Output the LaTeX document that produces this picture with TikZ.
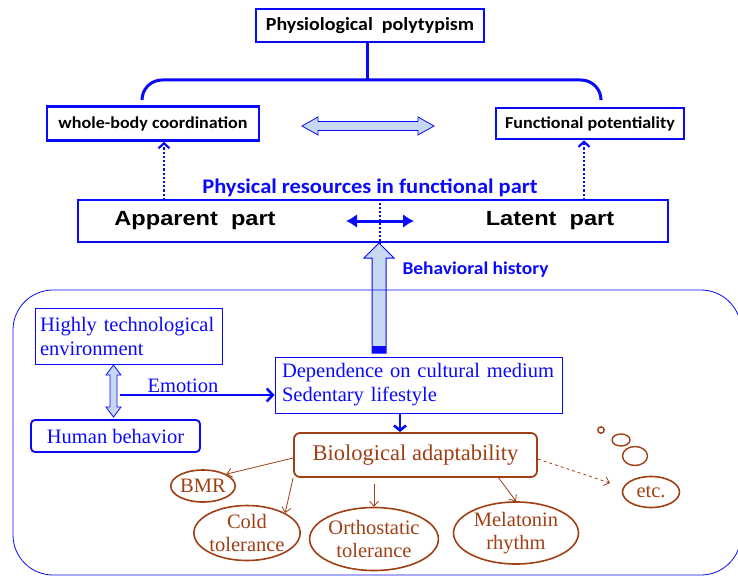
\documentclass[tikz,border=0pt]{standalone}
\usepackage{fontspec}
\setmainfont{Carlito}[FakeStretch=1.08]
\newfontfamily\arialfont{Liberation Sans}[FakeStretch=1.15]
\newfontfamily\seriffont{Liberation Serif}
\usetikzlibrary{arrows.meta,shapes.geometric,calc}
\definecolor{pblue}{RGB}{10,10,250}
\definecolor{lblue}{RGB}{198,217,241}
\definecolor{brn}{RGB}{160,62,20}
\begin{document}
\begin{tikzpicture}[x=1pt,y=-1pt,
  thickbox/.style={draw=pblue, line width=2.6pt, fill=white, inner sep=0pt},
  thinbox/.style={draw=pblue, line width=1pt, fill=white, inner sep=0pt, text=pblue,
    font=\seriffont\fontsize{20.5}{24}\selectfont},
  brownbox/.style={draw=brn, line width=1.8pt, rounded corners=6pt, inner sep=0pt, text=brn,
    font=\seriffont\fontsize{22.5}{26}\selectfont},
  brownell/.style={ellipse, draw=brn, line width=1.6pt, inner sep=0pt, text=brn, align=center,
    font=\seriffont\fontsize{20.5}{23}\selectfont},
  brarrow/.style={draw=brn, line width=0.8pt, -{Straight Barb[length=5pt,width=9pt]}},
  bluearrow/.style={draw=pblue, line width=2.6pt, -{Straight Barb[length=6pt,width=13pt]}},
  dotarrow/.style={draw=pblue, line width=2.2pt, dotted, -{Straight Barb[length=5pt,width=11pt]}},
  toptext/.style={font=\bfseries\fontsize{16.7}{19}\selectfont},
]
\useasboundingbox (0,0) rectangle (738,575);

% ---- upper level
\node[thickbox, minimum width=228, minimum height=33, font=\bfseries\fontsize{18.5}{21}\selectfont]
  (poly) at (370,25.5) {Physiological\ \ polytypism};
\node[thickbox, minimum width=212, minimum height=34, toptext] (whole) at (153,123.5) {whole-body coordination};
\node[thickbox, minimum width=188, minimum height=31, toptext] (func) at (590,123.5) {Functional potentiality};

% bracket joining the two aspects
\coordinate (brtop) at (367,80);
\draw[pblue, line width=3pt] (poly.south -| brtop) -- (brtop);
\draw[pblue, line width=3pt, rounded corners=20pt] (142,99) -- (142,80) -- (601,80) -- (601,99);

% hollow two-way arrow between the aspects
\draw[pblue, fill=lblue, line width=0.8pt]
  (302,126) -- (318,117) -- (318,121.5) -- (418,121.5) -- (418,117) -- (434,126)
  -- (418,135) -- (418,130.5) -- (318,130.5) -- (318,135) -- cycle;

% ---- functional part
\node[text=pblue, font=\bfseries\fontsize{20.8}{24}\selectfont] (phys) at (370,188) {Physical resources in functional part};
\node[thickbox, minimum width=590, minimum height=42] (parts) at (373,221) {};
\node[font=\arialfont\bfseries\fontsize{20.5}{24}\selectfont] (app) at (195,221) {Apparent\ \ part};
\node[font=\arialfont\bfseries\fontsize{20.5}{24}\selectfont] (lat) at (550,221) {Latent\ \ part};

\coordinate (dl) at (164,200);
\coordinate (dr) at (584,200);
\draw[dotarrow] (dl) -- (dl |- whole.south);
\draw[dotarrow] (dr) -- (dr |- func.south);

\coordinate (mid) at (380,221);
\draw[pblue, line width=2pt, dotted] (mid |- parts.north) -- (mid |- parts.south);
\coordinate (ml) at (346,221);
\coordinate (mr) at (414,221);
\draw[pblue, line width=3pt, {Latex[length=11pt,width=14pt]}-{Latex[length=11pt,width=14pt]}] (ml) -- (mr);

% ---- behavioural history arrow
\draw[pblue, fill=lblue, line width=1pt]
  (379,243) -- (394,258) -- (386,258) -- (386,353) -- (372,353) -- (372,258) -- (364,258) -- cycle;
\fill[pblue] (372,346) rectangle (386,353);
\node[anchor=west, text=pblue, font=\bfseries\fontsize{18}{21}\selectfont] (hist) at (399,270) {Behavioral history};

% ---- lower frame
\draw[pblue, line width=0.8pt, rounded corners=40pt] (13,290) rectangle (741,575);

\node[thinbox, minimum width=187, minimum height=56, text width=177, align=left] (env) at (128.5,336)
  {Highly technological\\environment};
\node[thinbox, line width=1.8pt, rounded corners=4pt, minimum width=169, minimum height=32] (human) at (115.5,436)
  {Human behavior};
\node[thinbox, minimum width=287, minimum height=56, text width=273, align=left] (dep) at (418.5,385)
  {Dependence on cultural medium\\Sedentary lifestyle};

% two-way link between environment and behaviour
\draw[pblue, fill=lblue, line width=0.8pt]
  (113.5,365) -- (121,375) -- (117,375) -- (117,407) -- (121,407) -- (113.5,417)
  -- (106,407) -- (110,407) -- (110,375) -- (106,375) -- cycle;

\coordinate (emo) at (120,395);
\draw[bluearrow] (emo) -- (emo -| dep.west);
\node[text=pblue, font=\seriffont\fontsize{20.5}{24}\selectfont] (emolab) at (183,386) {Emotion};

\node[brownbox, minimum width=243, minimum height=44] (bio) at (415.5,455) {Biological adaptability};
\draw[draw=pblue, line width=2.6pt, -{Straight Barb[length=5pt,width=12pt]}] (dep.south -| 400,0) -- (bio.north -| 400,0);

% ---- adaptability items
\node[brownell, minimum width=57, minimum height=32] (bmr) at (203,486) {BMR};
\node[brownell, minimum width=98, minimum height=55] (cold) at (247,533) {Cold\\tolerance};
\node[brownell, minimum width=125, minimum height=63] (orth) at (374,539) {Orthostatic\\tolerance};
\node[brownell, minimum width=125, minimum height=62] (mel) at (516,533) {Melatonin\\rhythm};
\node[brownell, minimum width=57, minimum height=31] (etc) at (651,492) {etc.};

\draw[brarrow] (bio.west |- 0,458) -- (bmr.north east);
\draw[brarrow] (bio.south west) -- (cold.north east);
\draw[brarrow] (bio.south -| orth) ++(0,6) -- (orth.north);
\draw[brarrow] (498,477) -- (mel.north);
\draw[brarrow, dashed] (bio.east |- 0,459) -- (610,483);

% thought bubbles
\draw[brn, line width=1.4pt] (601,430) circle (3.2);
\draw[brn, line width=1.4pt] (621,440) ellipse (9 and 6);
\draw[brn, line width=1.4pt] (635,456) ellipse (12.5 and 9.5);
\end{tikzpicture}
\end{document}
